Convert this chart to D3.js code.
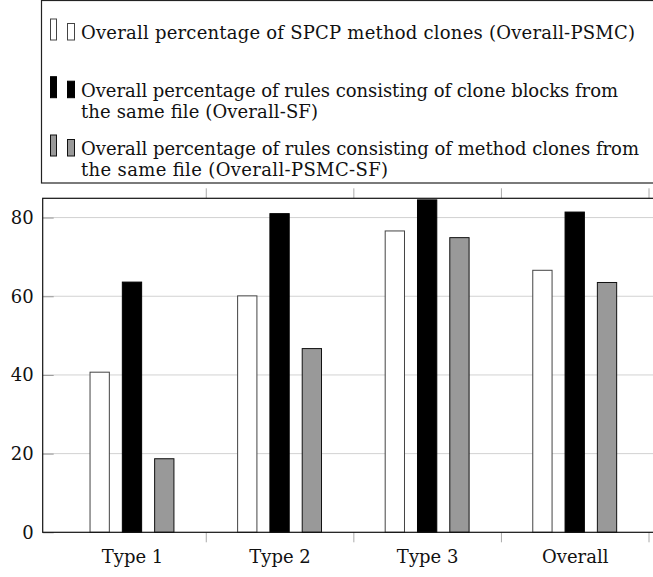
<!DOCTYPE html>
<meta charset="utf-8">
<script src="https://d3js.org/d3.v7.min.js"></script>
<style>
  body { margin: 0; background: #fff; }
  text { font-family: "DejaVu Serif", serif; fill: #111; }
</style>
<svg id="chart" width="653" height="577"></svg>
<script>
  // categories and series values (percent)
  const categories = ["Type 1", "Type 2", "Type 3", "Overall"];
  const psmc = [40.7, 60.1, 76.6, 66.6];
  const sameFile = [63.6, 81.0, 84.5, 81.4];
  const psmcSameFile = [18.7, 46.7, 74.9, 63.5];
  const yTicks = [0, 20, 40, 60, 80];
  const groupEdges = [1.5, 2.5, 3.5, 4.5];

  const legendLines = [
    ["Overall percentage of SPCP method clones (Overall-PSMC)"],
    ["Overall percentage of rules consisting of clone blocks from", "the same file (Overall-SF)"],
    ["Overall percentage of rules consisting of method clones from", "the same file (Overall-PSMC-SF)"]
  ];
  // rendered width of each legend line, so the wrap matches the original
  const legendWidths = [[554], [537, 237], [558, 307]];

  const series = [
    { values: psmc, fill: "#fff", stroke: "#444" },
    { values: sameFile, fill: "#000", stroke: "#000" },
    { values: psmcSameFile, fill: "#999", stroke: "#111" }
  ];

  const svg = d3.select("#chart");
  const plotLeft = 42.7, plotRight = 664, plotTop = 198.3, plotBottom = 532.3;
  const fontFamily = "DejaVu Serif";
  const fontSize = 18;

  const x = d3.scaleLinear().domain([0.395, 4.605]).range([plotLeft, plotRight]);
  const y = d3.scaleLinear().domain([0, 84.9]).range([plotBottom, plotTop]);

  const barWidth = 19.3, barShift = 32.3;

  // grid lines
  svg.append("g")
    .selectAll("line")
    .data(yTicks.filter(d => d > 0))
    .join("line")
      .attr("x1", plotLeft).attr("x2", plotRight)
      .attr("y1", d => y(d)).attr("y2", d => y(d))
      .attr("stroke", "#d2d2d2").attr("stroke-width", 1);

  // short y ticks inside the frame
  svg.append("g")
    .attr("transform", `translate(${plotLeft},0)`)
    .call(d3.axisLeft(y).tickValues(yTicks).tickSize(-11).tickFormat(""))
    .call(g => g.select(".domain").remove())
    .call(g => g.selectAll("line").attr("stroke", "#999"));

  // bars
  series.forEach((s, i) => {
    svg.append("g")
      .selectAll("rect")
      .data(s.values)
      .join("rect")
        .attr("x", (d, j) => x(j + 1) + (i - 1) * barShift - barWidth / 2)
        .attr("width", barWidth)
        .attr("y", d => y(d))
        .attr("height", d => y(0) - y(d))
        .attr("fill", s.fill)
        .attr("stroke", s.stroke)
        .attr("stroke-width", 1);
  });

  // group separator ticks, top and bottom
  svg.append("g")
    .attr("transform", `translate(0,${plotBottom})`)
    .call(d3.axisBottom(x).tickValues(groupEdges).tickSize(10).tickFormat(""))
    .call(g => g.select(".domain").remove())
    .call(g => g.selectAll("line").attr("stroke", "#aaa"));
  svg.append("g")
    .attr("transform", `translate(0,${plotTop})`)
    .call(d3.axisTop(x).tickValues(groupEdges).tickSize(10).tickFormat(""))
    .call(g => g.select(".domain").remove())
    .call(g => g.selectAll("line").attr("stroke", "#aaa"));

  // category labels
  svg.append("g")
    .attr("transform", `translate(0,${plotBottom})`)
    .call(d3.axisBottom(x).tickValues([1, 2, 3, 4]).tickSize(0).tickPadding(18)
      .tickFormat((d, i) => categories[i]))
    .call(g => g.select(".domain").remove())
    .call(g => g.selectAll("text").attr("font-size", fontSize)
      .attr("font-family", fontFamily).attr("fill", "#111"));

  // y labels
  svg.append("g")
    .attr("transform", `translate(${plotLeft},0)`)
    .call(d3.axisLeft(y).tickValues(yTicks).tickSize(0).tickPadding(9))
    .call(g => g.select(".domain").remove())
    .call(g => g.selectAll("text").attr("font-size", fontSize)
      .attr("font-family", fontFamily).attr("fill", "#111"));

  // plot frame
  svg.append("rect")
    .attr("x", plotLeft).attr("y", plotTop)
    .attr("width", plotRight - plotLeft).attr("height", plotBottom - plotTop)
    .attr("fill", "none").attr("stroke", "#111").attr("stroke-width", 1.2);

  // legend
  const legend = svg.append("g");
  legend.append("rect")
    .attr("x", 41.5).attr("y", 0.5)
    .attr("width", 700).attr("height", 182.5)
    .attr("fill", "#fff").attr("stroke", "#222").attr("stroke-width", 1.2);

  const entryBase = [39, 96.7, 155];
  legendLines.forEach((lines, i) => {
    const s = series[i];
    const b = entryBase[i] + 1;
    // two small bars as legend image
    legend.append("rect")
      .attr("x", 50.5).attr("y", b - 21).attr("width", 6).attr("height", 21)
      .attr("fill", s.fill).attr("stroke", s.stroke);
    legend.append("rect")
      .attr("x", 67.5).attr("y", b - 16.5).attr("width", 7).attr("height", 16.5)
      .attr("fill", s.fill).attr("stroke", s.stroke);
    lines.forEach((t, k) => {
      legend.append("text")
        .attr("x", 81).attr("y", entryBase[i] + k * 20.8)
        .attr("font-family", fontFamily)
        .attr("font-size", fontSize)
        .attr("textLength", legendWidths[i][k])
        .attr("lengthAdjust", "spacing")
        .text(t);
    });
  });
</script>
